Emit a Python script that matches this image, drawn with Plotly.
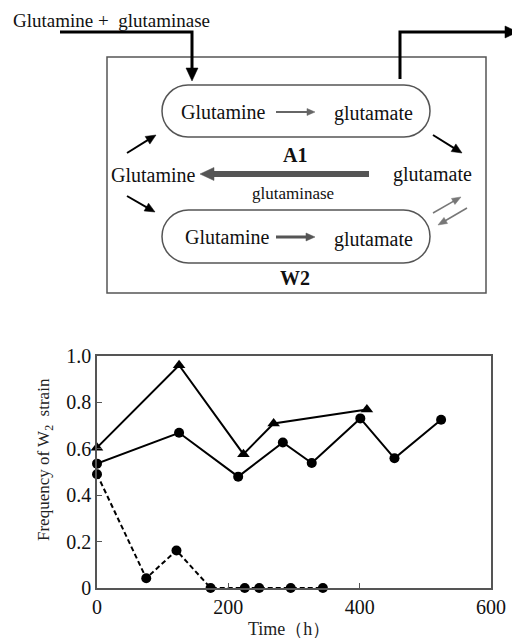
import math
import plotly.graph_objects as go

# the page places the figure 8px from the window's top-left corner
OFF = 8
W, H = 520 - OFF, 640 - OFF

# ---------------- data ----------------
tri_x = [0, 125, 223, 269, 411]
tri_y = [0.605, 0.96, 0.577, 0.709, 0.769]

solid_x = [0, 125, 215, 283, 327, 401, 453, 524]
solid_y = [0.536, 0.669, 0.48, 0.627, 0.539, 0.731, 0.559, 0.725]

dash_x = [0, 75, 121, 173, 225, 247, 295, 344]
dash_y = [0.49, 0.042, 0.162, 0, 0, 0, 0, 0]

x_ticks = [0, 200, 400, 600]
y_ticks = [0, 0.2, 0.4, 0.6, 0.8, 1.0]
y_ticktext = ["0", "0.2", "0.4", "0.6", "0.8", "1.0"]

FONT = "Liberation Serif"

# plot area in window pixels
PX0, PX1 = 97, 491
PY0, PY1 = 356, 588


def px(x):
    return (x - OFF) / W


def py(y):
    return 1 - (y - OFF) / H


fig = go.Figure()

fig.add_trace(go.Scatter(
    x=tri_x, y=tri_y, mode="lines+markers",
    line=dict(color="black", width=2),
    marker=dict(symbol="triangle-up", size=11, color="black"),
    cliponaxis=False, showlegend=False))
fig.add_trace(go.Scatter(
    x=solid_x, y=solid_y, mode="lines+markers",
    line=dict(color="black", width=2),
    marker=dict(symbol="circle", size=10, color="black"),
    cliponaxis=False, showlegend=False))
fig.add_trace(go.Scatter(
    x=dash_x, y=dash_y, mode="lines+markers",
    line=dict(color="black", width=2, dash="5px,3px"),
    marker=dict(symbol="circle", size=10, color="black"),
    cliponaxis=False, showlegend=False))

fig.update_xaxes(
    domain=[px(PX0), px(PX1)], range=[0, 600], tickvals=x_ticks,
    ticks="inside", ticklen=5, tickcolor="#555", showline=True, linecolor="#555",
    linewidth=1.5, mirror=True, showgrid=False, zeroline=False, automargin=False,
    tickfont=dict(family=FONT, size=20, color="#111"))
fig.update_yaxes(
    domain=[py(PY1), py(PY0)], range=[0, 1], tickvals=y_ticks,
    ticktext=y_ticktext,
    ticks="inside", ticklen=5, tickcolor="#555", showline=True, linecolor="#555",
    linewidth=1.5, mirror=True, showgrid=False, zeroline=False, automargin=False,
    tickfont=dict(family=FONT, size=20, color="#111"))

shapes = []
annotations = []

annotations.append(dict(
    x=px(45), y=py(460), xref="paper", yref="paper",
    text="Frequency of W<sub>2</sub>  strain", textangle=-90,
    xanchor="center", yanchor="middle",
    showarrow=False, font=dict(family=FONT, size=17, color="#222")))
annotations.append(dict(
    x=px(289), y=py(629), xref="paper", yref="paper", text="Time（h）",
    xanchor="center", yanchor="middle",
    showarrow=False, font=dict(family=FONT, size=18, color="#222")))

# ---------------- diagram ----------------
shapes.append(dict(type="rect", xref="paper", yref="paper",
                   x0=px(107), x1=px(486), y0=py(57), y1=py(293),
                   line=dict(color="#555", width=1.5)))


def to_path(points, close=False):
    s = "M" + " L".join(f"{px(a):.5f},{py(b):.5f}" for a, b in points)
    return s + (" Z" if close else "")


def pill(x0, y0, x1, y1):
    r = (y1 - y0) / 2
    k = 0.5523 * r
    pts = [
        ("M", [(x0 + r, y0)]),
        ("L", [(x1 - r, y0)]),
        ("C", [(x1 - r + k, y0), (x1, y0 + r - k), (x1, y0 + r)]),
        ("C", [(x1, y0 + r + k), (x1 - r + k, y1), (x1 - r, y1)]),
        ("L", [(x0 + r, y1)]),
        ("C", [(x0 + r - k, y1), (x0, y0 + r + k), (x0, y0 + r)]),
        ("C", [(x0, y0 + r - k), (x0 + r - k, y0), (x0 + r, y0)]),
    ]
    s = ""
    for cmd, p in pts:
        s += cmd + " ".join(f"{px(a):.5f},{py(b):.5f}" for a, b in p) + " "
    return s + "Z"


for (a, b, c, d) in [(162, 85, 430, 137), (162, 210, 430, 263)]:
    shapes.append(dict(type="path", xref="paper", yref="paper", path=pill(a, b, c, d),
                       line=dict(color="#555", width=1.5)))


def arrow(points, color="black", width=2, hlen=9, hwid=8):
    """polyline through points, with a filled arrowhead at the last point"""
    (xa, ya), (xb, yb) = points[-2], points[-1]
    L = math.hypot(xb - xa, yb - ya)
    ux, uy = (xb - xa) / L, (yb - ya) / L
    nx, ny = -uy, ux
    bx, by = xb - ux * hlen, yb - uy * hlen
    line_pts = list(points[:-1]) + [(xb - ux * hlen * 0.6, yb - uy * hlen * 0.6)]
    shapes.append(dict(type="path", xref="paper", yref="paper",
                       path=to_path(line_pts), line=dict(color=color, width=width)))
    head = [(xb, yb), (bx + nx * hwid / 2, by + ny * hwid / 2),
            (bx - nx * hwid / 2, by - ny * hwid / 2)]
    shapes.append(dict(type="path", xref="paper", yref="paper",
                       path=to_path(head, close=True), fillcolor=color,
                       line=dict(color=color, width=0.5)))


# input and output arrows
arrow([(60, 32), (192, 32), (192, 81)], width=3, hlen=13, hwid=12)
arrow([(400, 79), (400, 32), (518, 32)], width=3, hlen=13, hwid=12)

# small arrows inside pills
arrow([(276, 112), (315, 112)], color="#666", width=2, hlen=8, hwid=7)
arrow([(276, 237), (315, 237)], color="#555", width=3, hlen=9, hwid=8)

# big middle arrow (glutamate -> Glutamine)
arrow([(369, 174), (200, 174)], color="#555", width=6, hlen=14, hwid=13)

# diagonal arrows
arrow([(127, 153), (156, 135)], width=2, hlen=10, hwid=9)
arrow([(127, 196), (155, 212)], width=2, hlen=10, hwid=9)
arrow([(433, 135), (462, 153)], width=2, hlen=10, hwid=9)
arrow([(433, 213), (461, 197)], color="#777", width=1.5, hlen=9, hwid=7)
arrow([(467, 208), (438, 225)], color="#777", width=1.5, hlen=9, hwid=7)


def label(x, y, text, size=18, bold=False, anchor="center", vanchor="middle", color="#111"):
    if bold:
        text = f"<b>{text}</b>"
    annotations.append(dict(
        x=px(x), y=py(y), xref="paper", yref="paper", text=text, showarrow=False,
        xanchor=anchor, yanchor=vanchor, font=dict(family=FONT, size=size, color=color)))


label(11, 8, "Glutamine +  glutaminase", size=19, anchor="left", vanchor="top")
label(223, 112, "Glutamine", size=20)
label(373, 113, "glutamate", size=20)
label(295, 155, "A1", size=20, bold=True)
label(109, 175, "Glutamine", size=20, anchor="left")
label(432, 174, "glutamate", size=20)
label(293, 193, "glutaminase", size=17)
label(227, 237, "Glutamine", size=20)
label(373, 240, "glutamate", size=20)
label(295, 278, "W2", size=20, bold=True)

fig.update_layout(
    width=W, height=H, margin=dict(l=0, r=0, t=0, b=0, pad=0, autoexpand=False),
    paper_bgcolor="white", plot_bgcolor="white",
    shapes=shapes, annotations=annotations, showlegend=False)

fig.write_html("out.html")
